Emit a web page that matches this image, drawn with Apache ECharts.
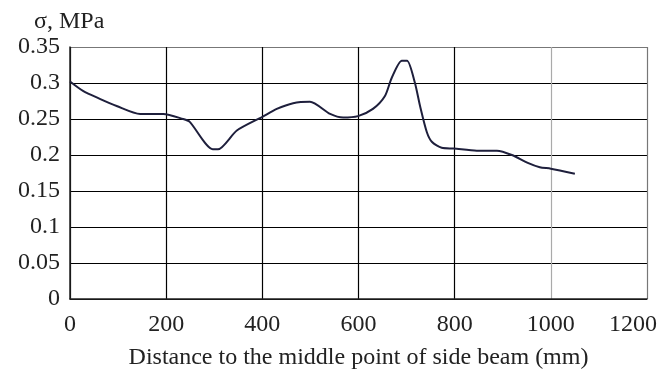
<!DOCTYPE html>
<html>
<head>
<meta charset="utf-8">
<script src="https://cdn.jsdelivr.net/npm/echarts@6/dist/echarts.min.js"></script>
<style>
  html, body { margin: 0; padding: 0; background: #fff; }
  #chart { width: 661px; height: 375px; }
</style>
</head>
<body>
<div id="chart"></div>
<script>
// distance (mm) and stress (MPa)
var distance = [0, 27, 62, 97, 146, 194, 235, 249, 297, 308, 347, 400, 430, 464, 499, 541,
                568, 599, 630, 655, 669, 690, 701, 717, 728, 742, 753, 773, 798, 846, 888,
                919, 952, 977, 1000, 1050];
var stress = [0.302, 0.289, 0.278, 0.268, 0.257, 0.257, 0.250, 0.246, 0.208, 0.208, 0.234,
              0.253, 0.264, 0.272, 0.274, 0.257, 0.252, 0.254, 0.264, 0.282, 0.307, 0.331,
              0.331, 0.301, 0.268, 0.232, 0.218, 0.210, 0.209, 0.206, 0.206, 0.200, 0.189,
              0.183, 0.181, 0.174];

var yTitle = 'σ, MPa';
var xTitle = 'Distance to the middle point of side beam (mm)';

var points = [];
for (var i = 0; i < distance.length; i++) {
  points.push([distance[i], stress[i]]);
}

var font = '"Liberation Serif", "DejaVu Serif", serif';
var chart = echarts.init(document.getElementById('chart'));

chart.setOption({
  animation: false,
  backgroundColor: '#fff',
  title: {
    text: yTitle,
    left: 29,
    top: 5,
    textStyle: { fontFamily: font, fontSize: 24, fontWeight: 'normal', color: '#222' }
  },
  grid: { left: 70, right: 14, top: 47, bottom: 72 },
  xAxis: {
    type: 'value',
    min: 0,
    max: 1200,
    interval: 200,
    name: xTitle,
    nameLocation: 'middle',
    nameGap: 47,
    nameTextStyle: { fontFamily: font, fontSize: 24, color: '#222' },
    axisLine: { show: true, lineStyle: { color: '#222', width: 1.5 } },
    axisTick: { show: false },
    axisLabel: {
      fontFamily: font, fontSize: 24, color: '#222', margin: 14,
      formatter: function (v) {
        // last label sits a bit left of its tick in the original
        return v === 1200 ? '{e|1200}' : String(v);
      },
      rich: {
        e: { fontFamily: font, fontSize: 24, color: '#222', padding: [0, 28, 0, 0] }
      }
    },
    splitLine: {
      show: true,
      lineStyle: { color: ['#000', '#000', '#000', '#000', '#000', '#aaa', '#777'], width: 1.2 }
    }
  },
  yAxis: {
    type: 'value',
    min: 0,
    max: 0.35,
    interval: 0.05,
    axisLine: { show: true, lineStyle: { color: '#222', width: 1.5 } },
    axisTick: { show: false },
    axisLabel: {
      fontFamily: font, fontSize: 24, color: '#222', margin: 10,
      formatter: function (v) { return String(+v.toFixed(2)); }
    },
    splitLine: {
      show: true,
      lineStyle: { color: ['#000', '#000', '#000', '#000', '#000', '#000', '#000', '#777'], width: 1.2 }
    }
  },
  series: [{
    type: 'line',
    data: points,
    smooth: 0.25,
    showSymbol: false,
    lineStyle: { color: '#1e1f3c', width: 2 }
  }]
});
</script>
</body>
</html>
